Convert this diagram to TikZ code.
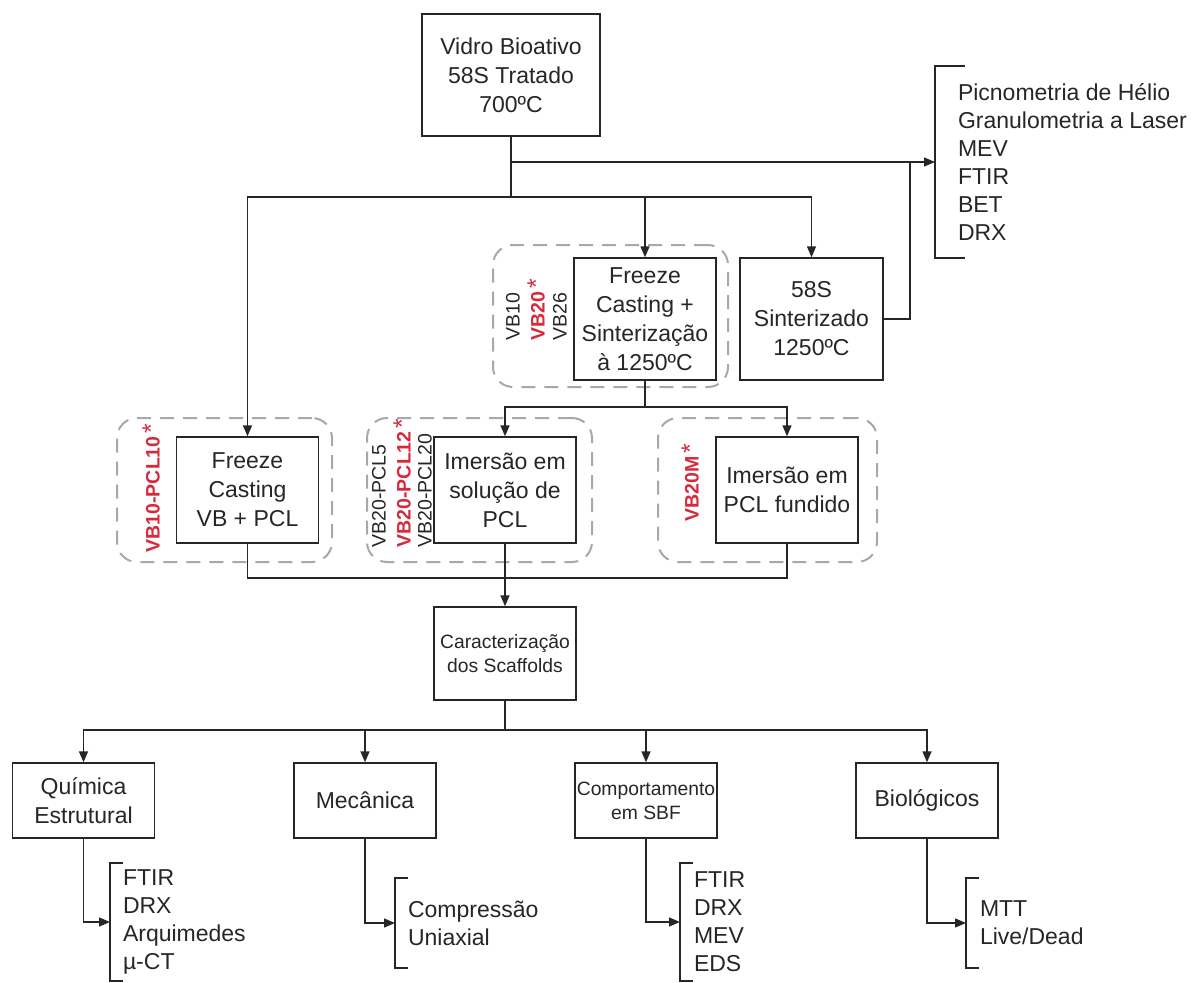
\documentclass[tikz,border=0pt]{standalone}
\usepackage{fontspec}
\setmainfont{Liberation Sans}
\usetikzlibrary{arrows.meta, positioning}
\definecolor{lineDark}{HTML}{262626}
\definecolor{groupGray}{HTML}{A8A8A8}
\definecolor{tagRed}{HTML}{D62A3C}
\newcommand{\chosen}{\,{\fontsize{25}{25}\selectfont\mdseries*}}

\begin{document}
\begin{tikzpicture}[
    x=1pt, y=-1pt,
    color=lineDark,
    >={Triangle[length=11pt,width=9pt]},
    line width=1.4pt,
    box/.style={draw, fill=white, align=center, inner sep=0pt, minimum width=142pt,
        font=\fontsize{23}{29}\selectfont},
    small box/.style={box, font=\fontsize{19.3}{24}\selectfont},
    group/.style={draw=groupGray, line width=2pt, dash pattern=on 14pt off 9pt, rounded corners=20pt},
    tag/.style={rotate=90, anchor=west, inner sep=0pt, font=\fontsize{19.5}{20}\selectfont},
    red tag/.style={tag, text=tagRed, font=\fontsize{19.5}{20}\selectfont\bfseries},
    list/.style={anchor=west, align=left, inner ysep=0pt, outer sep=0pt,
        font=\fontsize{23}{28}\selectfont}
]
    \useasboundingbox (0,0) rectangle (1195,983);

    % dashed groups
    \node[group, minimum width=235pt, minimum height=142pt] (gFCS) at (610.5,316) {};
    \node[group, minimum width=215pt, minimum height=144pt] (gFCVB) at (224.5,490) {};
    \node[group, minimum width=225pt, minimum height=144pt] (gSol) at (479.5,490) {};
    \node[group, minimum width=219pt, minimum height=144pt] (gFun) at (767.5,490) {};

    % boxes
    \node[box, minimum width=178pt, minimum height=122pt] (VB) at (511,75) {Vidro Bioativo\\58S Tratado\\700ºC};
    \node[box, minimum height=122pt] (FCS) at (645,319) {Freeze\\Casting +\\Sinterização\\à 1250ºC};
    \node[box, minimum width=143pt, minimum height=122pt] (Sint) at (811.5,319) {58S\\Sinterizado\\1250ºC};
    \node[box, minimum height=106pt] (FCVB) at (247.5,490) {Freeze\\Casting\\VB + PCL};
    \node[box, minimum height=106pt] (ImSol) at (505,490) {Imersão em\\solução de\\PCL};
    \node[box, minimum height=106pt] (ImFun) at (787,490) {Imersão em\\PCL fundido};
    \node[small box, minimum height=93pt] (Car) at (505,653.5) {Caracterização\\dos Scaffolds};
    \node[box, minimum height=75pt] (Quim) at (83.5,800.5) {Química\\Estrutural};
    \node[box, minimum height=75pt] (Mec) at (365,800.5) {Mecânica};
    \node[small box, minimum height=75pt] (SBF) at (646,800.5) {Comportamento\\em SBF};
    \node[box, minimum height=75pt] (Bio) at (927,800.5) {Biológicos};

    % sample tags
    \node[tag] (tVB10) at (513,341) {VB10};
    \node[red tag] (tVB20) at (536,341) {VB20\chosen};
    \node[tag] (tVB26) at (560,341) {VB26};
    \node[red tag] (tPCL10) at (151,553) {VB10-PCL10\chosen};
    \node[tag] (tPCL5) at (379,548) {VB20-PCL5};
    \node[red tag] (tPCL12) at (402,548) {VB20-PCL12\chosen};
    \node[tag] (tPCL20) at (425,548) {VB20-PCL20};
    \node[red tag] (tVB20M) at (690,522) {VB20M\chosen};

    % lists of tests
    \node[list, inner xsep=23pt, minimum height=192pt] (propList) at (935,162)
        {Picnometria de Hélio\\Granulometria a Laser\\MEV\\FTIR\\BET\\DRX};
    \node[list, inner xsep=13pt, minimum height=118pt] (quimList) at (110,922)
        {FTIR\\DRX\\Arquimedes\\µ-CT};
    \node[list, inner xsep=13pt, minimum height=90pt] (mecList) at (395,923)
        {Compressão\\Uniaxial};
    \node[list, inner xsep=14pt, minimum height=118pt] (sbfList) at (680,922)
        {FTIR\\DRX\\MEV\\EDS};
    \node[list, inner xsep=14pt, minimum height=90pt] (bioList) at (966,923)
        {MTT\\Live/Dead};

    \draw ([xshift=30pt]propList.north west) -- (propList.north west) -- (propList.south west) -- ([xshift=30pt]propList.south west);
    \foreach \l in {quimList, mecList, sbfList, bioList}
        \draw ([xshift=13pt]\l.north west) -- (\l.north west) -- (\l.south west) -- ([xshift=13pt]\l.south west);

    % connectors
    \coordinate (splitA) at (511,162);
    \coordinate (joinA) at (910,162);
    \coordinate (splitB) at (511,197);
    \coordinate (splitC) at (645,407);
    \coordinate (mergeD) at (505,578);
    \coordinate (splitE) at (505,730);

    \draw (VB.south) -- (splitB);
    \draw[->] (splitA) -- (propList.west);
    \draw (Sint.east) -| (joinA);
    \draw[->] (splitB) -| (FCVB.north);
    \draw[->] (splitB) -| (FCS.north);
    \draw[->] (splitB) -| (Sint.north);

    \draw (FCS.south) -- (splitC);
    \draw[->] (splitC) -| (ImSol.north);
    \draw[->] (splitC) -| (ImFun.north);

    \draw (FCVB.south) |- (mergeD);
    \draw (ImFun.south) |- (mergeD);
    \draw[->] (ImSol.south) -- (Car.north);

    \draw (Car.south) -- (splitE);
    \foreach \b in {Quim, Mec, SBF, Bio}
        \draw[->] (splitE) -| (\b.north);

    \draw[->] (Quim.south) |- (quimList.west);
    \draw[->] (Mec.south) |- (mecList.west);
    \draw[->] (SBF.south) |- (sbfList.west);
    \draw[->] (Bio.south) |- (bioList.west);
\end{tikzpicture}
\end{document}
